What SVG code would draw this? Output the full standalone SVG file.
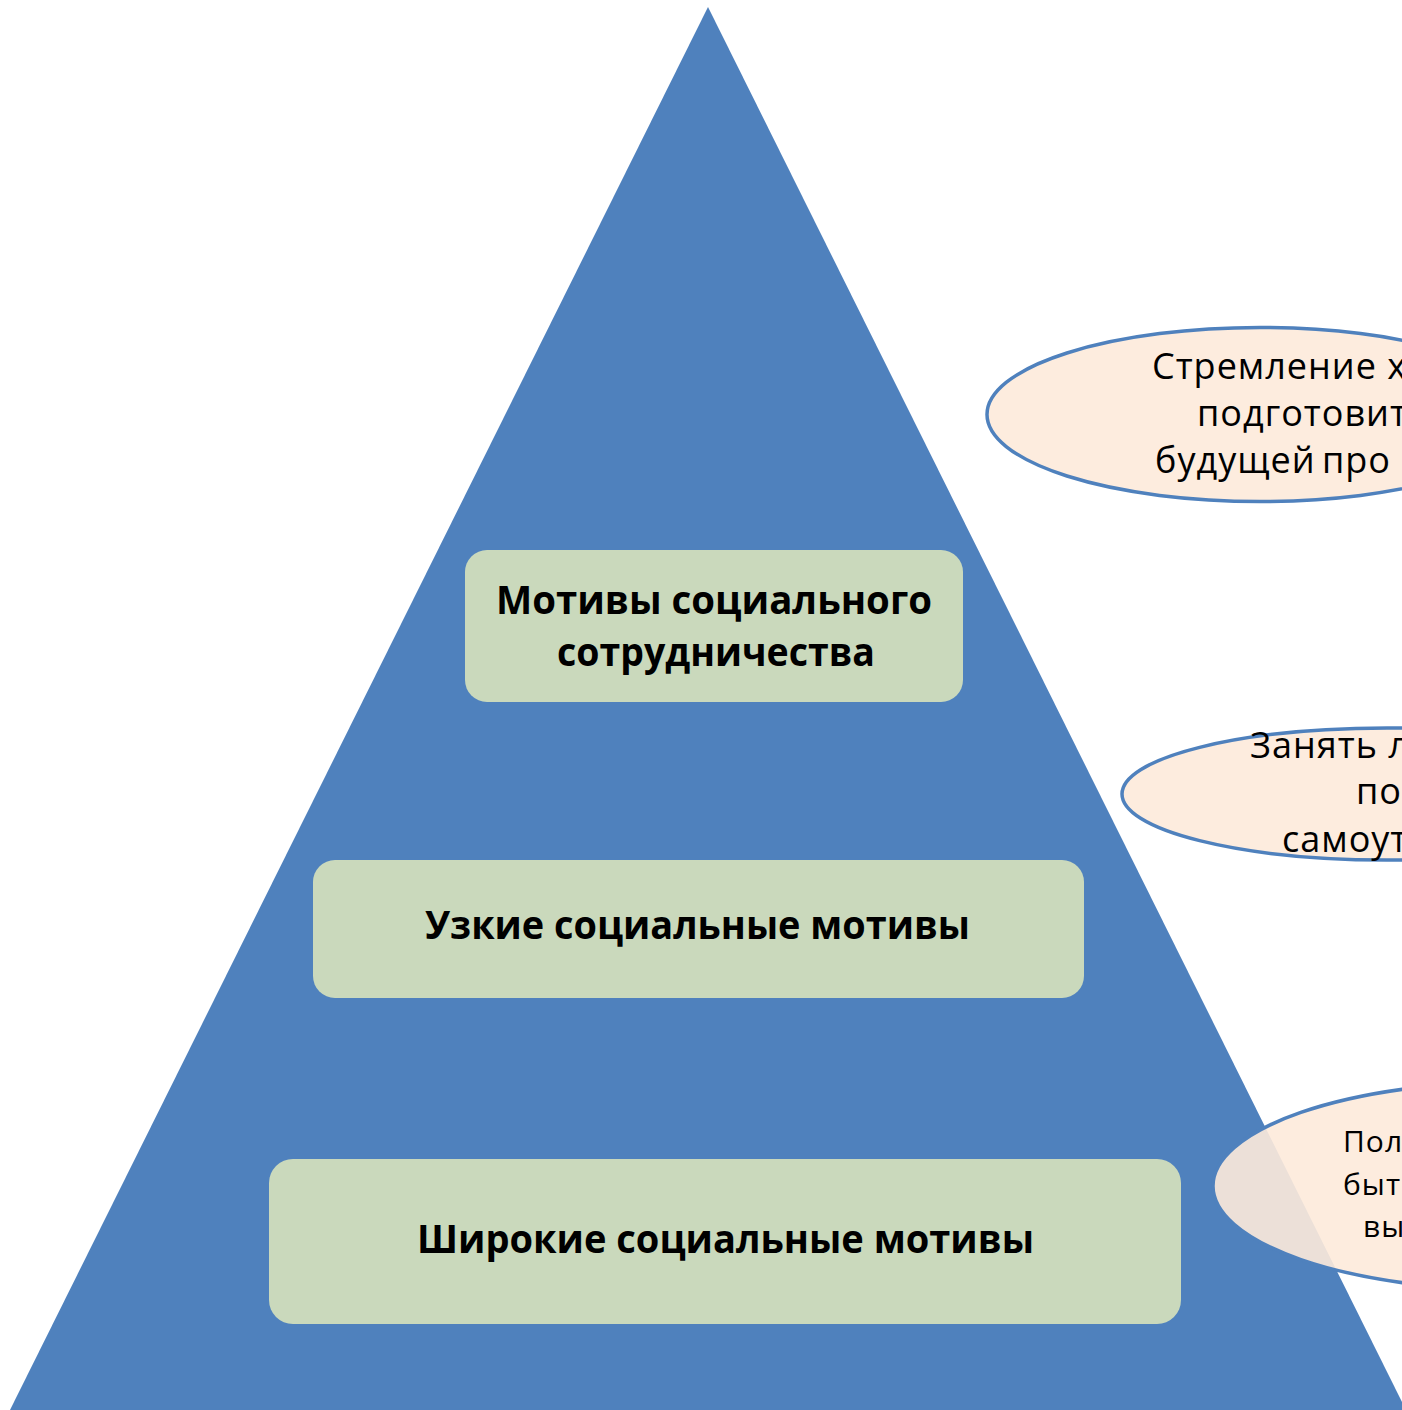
<svg xmlns="http://www.w3.org/2000/svg" width="1402" height="1410" viewBox="0 0 1402 1410">
<style>
.box{fill:#CAD9BC}
.bt{font-family:"Open Sans","Noto Sans",sans-serif;font-weight:bold;font-size:39px;fill:#000}
.ell{fill:#FDEADA;fill-opacity:0.9;stroke:#4F81BD;stroke-width:3.5}
.et{font-family:"Open Sans","Noto Sans",sans-serif;font-size:36px;fill:#000;letter-spacing:1px}
.et3{font-family:"Open Sans","Noto Sans",sans-serif;font-size:30px;fill:#000;letter-spacing:1px}
</style>
<rect width="1402" height="1410" fill="#FFFFFF"/>
<g id="pyramid">
<polygon points="708,7 9,1412 1407,1412" fill="#4F81BD"/>
</g>
<g id="level-top">
<rect class="box" x="465" y="550" width="498" height="152" rx="22"/>
<text class="bt" x="496" y="614" textLength="436" lengthAdjust="spacingAndGlyphs">Мотивы социального</text>
<text class="bt" x="557" y="666" textLength="318" lengthAdjust="spacingAndGlyphs">сотрудничества</text>
</g>
<g id="level-middle">
<rect class="box" x="313" y="860" width="771" height="138" rx="22"/>
<text class="bt" x="425" y="939" textLength="545" lengthAdjust="spacingAndGlyphs">Узкие социальные мотивы</text>
</g>
<g id="level-bottom">
<rect class="box" x="269" y="1159" width="912" height="165" rx="24"/>
<text class="bt" x="417" y="1253" textLength="617" lengthAdjust="spacingAndGlyphs">Широкие социальные мотивы</text>
</g>
<g id="ellipse-1">
<ellipse class="ell" cx="1260" cy="414.5" rx="273" ry="87"/>
<text class="et" x="1152" y="379">Стремление х</text>
<text class="et" x="1197" y="426">подготовит</text>
<text class="et" x="1155" y="473" word-spacing="-4">будущей про</text>
</g>
<g id="ellipse-2">
<ellipse class="ell" cx="1387" cy="794" rx="265" ry="66"/>
<text class="et" x="1250" y="758">Занять л</text>
<text class="et" x="1356" y="804">по</text>
<text class="et" x="1282" y="852">самоут</text>
</g>
<g id="ellipse-3">
<ellipse class="ell" cx="1513" cy="1186" rx="300" ry="104"/>
<text class="et3" x="1343" y="1152">Пол</text>
<text class="et3" x="1343" y="1195">быт</text>
<text class="et3" x="1363" y="1237">вы</text>
</g>
<g id="connectors"/>
</svg>
